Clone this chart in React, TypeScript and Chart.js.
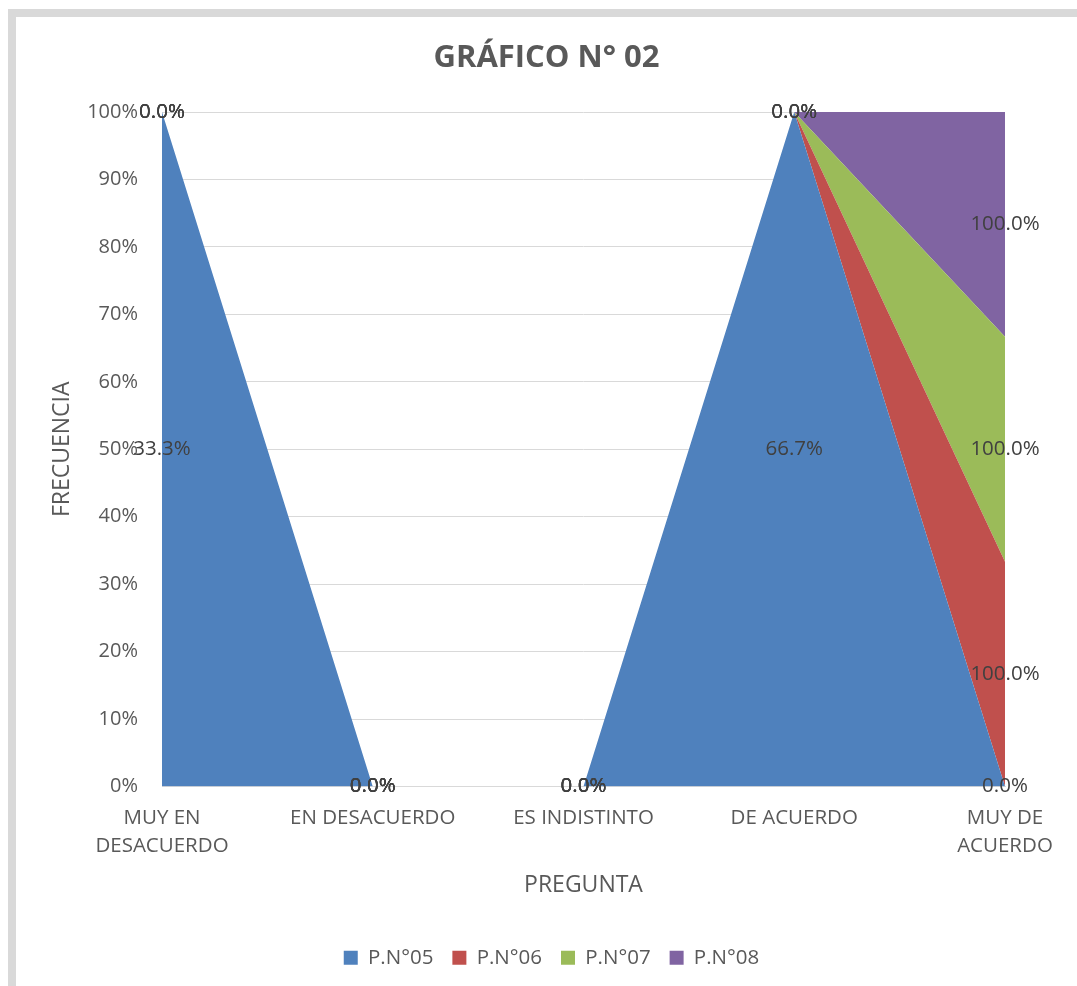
import React, { useEffect, useRef } from "react";
import { Chart, registerables } from "chart.js";

Chart.register(...registerables);

const categories: (string | string[])[] = [
  ["MUY EN", "DESACUERDO"],
  "EN DESACUERDO",
  "ES INDISTINTO",
  "DE ACUERDO",
  ["MUY DE", "ACUERDO"],
];

const seriesNames = ["P.N°05", "P.N°06", "P.N°07", "P.N°08"];
const pN05 = [33.3, 0, 0, 66.7, 0];
const pN06 = [0, 0, 0, 0, 100];
const pN07 = [0, 0, 0, 0, 100];
const pN08 = [0, 0, 0, 0, 100];
const seriesColors = ["#4F81BD", "#C0504D", "#9BBB59", "#8064A2"];

const yTicks = [0, 10, 20, 30, 40, 50, 60, 70, 80, 90, 100];
const chartTitle = "GRÁFICO N° 02";

const FONT = "'Open Sans', 'Noto Sans', sans-serif";

export default function App() {
  const ref = useRef<HTMLCanvasElement>(null);

  useEffect(() => {
    const raw = [pN05, pN06, pN07, pN08];
    const sums = categories.map((_, j) => raw.reduce((s, arr) => s + arr[j], 0));
    const shares = raw.map((arr) => arr.map((v, j) => (sums[j] > 0 ? (v / sums[j]) * 100 : 0)));

    const labelPlugin = {
      id: "areaLabels",
      afterDatasetsDraw(chart: any) {
        const ctx = chart.ctx;
        const ys = chart.scales.y;
        const xs = chart.scales.x;
        ctx.save();
        ctx.font = `20.5px ${FONT}`;
        ctx.fillStyle = "#404040";
        ctx.textAlign = "center";
        ctx.textBaseline = "middle";
        categories.forEach((_, j) => {
          let base = 0;
          raw.forEach((arr, i) => {
            const top = base + shares[i][j];
            const mid = (base + top) / 2;
            const x = xs.getPixelForValue(j);
            const y = ys.getPixelForValue(mid);
            ctx.fillText(arr[j].toFixed(1) + "%", x, y);
            base = top;
          });
        });
        ctx.restore();
      },
    };

    const titlePlugin = {
      id: "mainTitle",
      afterDraw(chart: any) {
        const ctx = chart.ctx;
        ctx.save();
        ctx.font = `bold 31px ${FONT}`;
        ctx.fillStyle = "#595959";
        ctx.textAlign = "center";
        ctx.textBaseline = "middle";
        ctx.fillText(chartTitle, chart.width / 2, 41);
        ctx.restore();
      },
    };

    const chart = new Chart(ref.current!, {
      type: "line",
      data: {
        labels: categories as any,
        datasets: shares.map((d, i) => ({
          label: seriesNames[i],
          data: d,
          backgroundColor: seriesColors[i],
          borderColor: seriesColors[i],
          borderWidth: 0,
          pointRadius: 0,
          tension: 0,
          fill: i === 0 ? "origin" : "-1",
        })),
      },
      options: {
        animation: false,
        responsive: false,
        layout: { padding: { top: 95, left: 10, right: 0, bottom: 8 } },
        plugins: {
          title: { display: false },
          legend: {
            position: "bottom",
            labels: {
              boxWidth: 14,
              boxHeight: 14,
              padding: 19,
              color: "#595959",
              font: { family: FONT, size: 20.5 },
            },
          },
          tooltip: { enabled: false },
        },
        scales: {
          x: {
            offset: false,
            grid: { display: false, drawTicks: false },
            border: { display: true, color: "#d9d9d9", width: 1 },
            ticks: {
              color: "#595959",
              font: { family: FONT, size: 20.5, lineHeight: 1.366 },
              padding: 18,
              maxRotation: 0,
              autoSkip: false,
            },
            title: {
              display: true,
              text: "PREGUNTA",
              color: "#595959",
              font: { family: FONT, size: 23 },
              padding: { top: 0, bottom: 29 },
            },
            afterFit: (s: any) => {
              s.height = 142;
            },
          },
          y: {
            stacked: true,
            min: 0,
            max: 100,
            afterBuildTicks: (scale: any) => {
              scale.ticks = yTicks.map((v) => ({ value: v }));
            },
            grid: { color: "#d9d9d9", lineWidth: 1, drawTicks: false },
            border: { display: false },
            ticks: {
              color: "#595959",
              font: { family: FONT, size: 20 },
              padding: 24,
              callback: (v: any) => v + "%",
            },
            title: {
              display: true,
              text: "FRECUENCIA",
              color: "#595959",
              font: { family: FONT, size: 23 },
              padding: { top: 22.5, bottom: 0 },
            },
            afterFit: (s: any) => {
              s.width = 136;
            },
          },
          yR: {
            type: "linear",
            position: "right",
            display: true,
            grid: { display: false, drawTicks: false },
            border: { display: false },
            ticks: { display: false },
            title: { display: false },
            afterFit: (s: any) => {
              s.width = 72;
            },
          },
        },
      },
      plugins: [labelPlugin, titlePlugin],
    });
    return () => chart.destroy();
  }, []);

  return (
    <div
      style={{
        position: "fixed",
        left: 8,
        top: 9,
        width: 1069,
        height: 977,
        boxSizing: "border-box",
        borderTop: "8px solid #d9d9d9",
        borderLeft: "8px solid #d9d9d9",
        background: "#ffffff",
      }}
    >
      <canvas ref={ref} width={1061} height={969} style={{ display: "block" }} />
    </div>
  );
}
